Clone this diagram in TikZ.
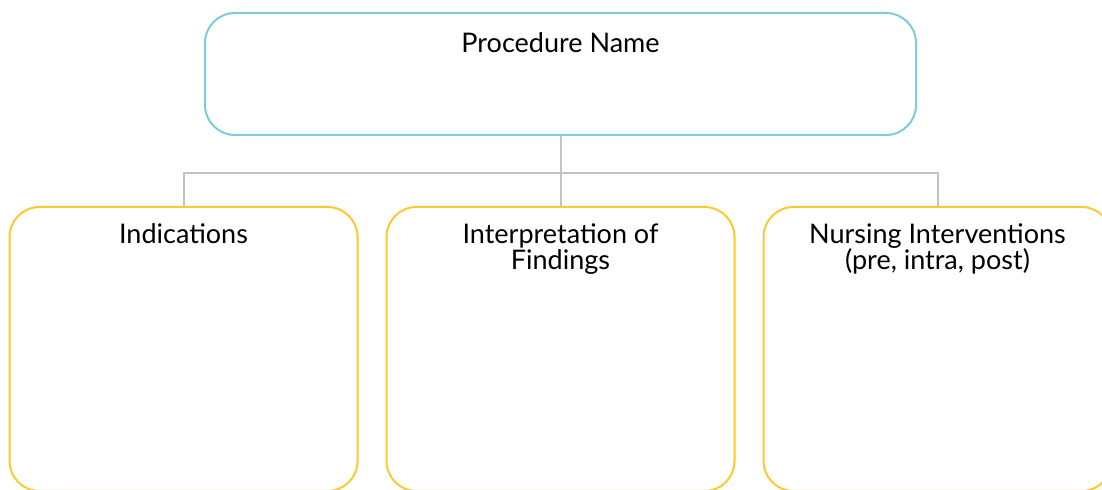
\documentclass[tikz,border=0pt]{standalone}
\usepackage{fontspec}
\setmainfont{Lato}
\usetikzlibrary{positioning}
\definecolor{boxcyan}{HTML}{7FCADB}
\definecolor{boxyellow}{HTML}{FBC932}
\definecolor{linkgray}{HTML}{C3C3C3}
\tikzset{
  mainbox/.style={draw=boxcyan, line width=1pt, rounded corners=15pt, minimum width=355.5pt, minimum height=61pt, inner sep=0pt},
  subbox/.style={draw=boxyellow, line width=1pt, rounded corners=15pt, minimum width=174pt, minimum height=142pt, inner sep=0pt},
  title/.style={font=\fontsize{13.5}{13}\selectfont, align=center, inner sep=0pt, anchor=north},
  link/.style={draw=linkgray, line width=1pt}
}
\begin{document}
\begin{tikzpicture}[x=0.5pt,y=-0.5pt]
    \useasboundingbox (0,0) rectangle (1102,490);
    % boxes
    \node[mainbox] (procedure) at (560.5,74) {};
    \node[subbox, below=35pt of procedure] (findings) {};
    \node[subbox, left=13.5pt of findings] (indications) {};
    \node[subbox, right=13.5pt of findings] (nursing) {};
    % texts
    \node[title] (proctext) at ([yshift=-10pt]procedure.north) {Procedure Name};
    \node[title] (indtext) at ([yshift=-8.5pt]indications.north) {Indications};
    \node[title] (findtext) at ([yshift=-8.5pt]findings.north) {Interpretation of\\Findings};
    \node[title] (nurstext) at ([yshift=-8.5pt]nursing.north) {Nursing Interventions\\(pre, intra, post)};
    % connectors
    \coordinate (split) at ([yshift=-18.5pt]procedure.south);
    \draw[link] (procedure.south) -- (split) -- (findings.north);
    \draw[link] (indications.north) |- (split) -| (nursing.north);
\end{tikzpicture}
\end{document}
